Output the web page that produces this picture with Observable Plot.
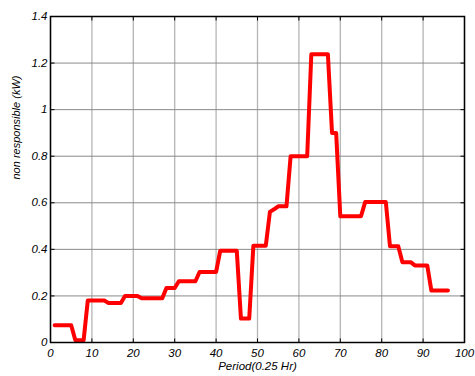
<!DOCTYPE html>
<html><head><meta charset="utf-8">
<script src="https://cdn.jsdelivr.net/npm/d3@7"></script>
<script src="https://cdn.jsdelivr.net/npm/@observablehq/plot@0.6"></script>
<style>body{margin:0;background:#fff}</style>
</head><body><div id="chart"></div>
<script>
const values = [
  0.074, 0.074, 0.074, 0.074, 0.074,
  0.01, 0.01, 0.01,
  0.18, 0.18, 0.18, 0.18, 0.18,
  0.17, 0.17, 0.17, 0.17,
  0.20, 0.20, 0.20, 0.20,
  0.19, 0.19, 0.19, 0.19, 0.19, 0.19,
  0.234, 0.234, 0.234,
  0.263, 0.263, 0.263, 0.263, 0.263,
  0.303, 0.303, 0.303, 0.303, 0.303,
  0.394, 0.394, 0.394, 0.394, 0.394,
  0.103, 0.103, 0.103,
  0.415, 0.415, 0.415, 0.415,
  0.561, 0.572,
  0.585, 0.585, 0.585,
  0.80, 0.80, 0.80, 0.80, 0.80,
  1.238, 1.238, 1.238, 1.238, 1.238,
  0.90, 0.90,
  0.542, 0.542, 0.542, 0.542, 0.542, 0.542,
  0.603, 0.603, 0.603, 0.603, 0.603, 0.603,
  0.413, 0.413, 0.413,
  0.345, 0.345, 0.345,
  0.331, 0.331, 0.331, 0.331,
  0.223, 0.223, 0.223, 0.223, 0.223
];
const xTicks = [0, 10, 20, 30, 40, 50, 60, 70, 80, 90, 100];
const yTicks = [0, 0.2, 0.4, 0.6, 0.8, 1.0, 1.2, 1.4];
const yTickLabels = ["0", "0.2", "0.4", "0.6", "0.8", "1", "1.2", "1.4"];
const xLabel = "Period(0.25 Hr)";
const yLabel = "non responsible (kW)";

const data = values.map((v, i) => ({period: i + 1, value: v}));
const tick = (dx, dy) => ({draw(ctx) { ctx.moveTo(0, 0); ctx.lineTo(dx, dy); }});

const chart = Plot.plot({
  width: 475, height: 376,
  marginLeft: 50, marginRight: 11, marginTop: 16, marginBottom: 34,
  style: {fontFamily: "'Liberation Sans', Arial, sans-serif", fontSize: "11px", background: "#fff", overflow: "visible"},
  x: {domain: [0, 100]},
  y: {domain: [0, 1.4]},
  marks: [
    Plot.gridX(xTicks, {stroke: "#b4b4b4", strokeOpacity: 1, strokeWidth: 1.3}),
    Plot.gridY(yTicks, {stroke: "#8a8a8a", strokeOpacity: 1, strokeWidth: 1}),
    Plot.dot(xTicks, {x: d => d, frameAnchor: "bottom", symbol: tick(0, -4), stroke: "black", strokeWidth: 1}),
    Plot.dot(xTicks, {x: d => d, frameAnchor: "top", symbol: tick(0, 4), stroke: "black", strokeWidth: 1}),
    Plot.dot(yTicks, {y: d => d, frameAnchor: "left", symbol: tick(4, 0), stroke: "black", strokeWidth: 1}),
    Plot.dot(yTicks, {y: d => d, frameAnchor: "right", symbol: tick(-4, 0), stroke: "black", strokeWidth: 1}),
    Plot.line(data, {x: "period", y: "value", stroke: "#ff0000", strokeWidth: 4, strokeLinejoin: "round"}),
    Plot.frame({stroke: "black", strokeWidth: 1.5}),
    Plot.axisX(xTicks, {tickSize: 0, tickPadding: 6, fontStyle: "italic", fontSize: 11.5, label: null}),
    Plot.axisY(yTicks, {tickSize: 0, tickPadding: 3, fontStyle: "italic", fontSize: 11.5, label: null,
      tickFormat: d => yTickLabels[yTicks.indexOf(d)]}),
    Plot.text([xLabel], {frameAnchor: "bottom", dy: 27, fontStyle: "italic", fontSize: 11.5}),
    Plot.text([yLabel], {frameAnchor: "left", dx: -34, rotate: -90, fontStyle: "italic", fontSize: 11})
  ]
});
document.getElementById("chart").appendChild(chart);
</script>
</body></html>
